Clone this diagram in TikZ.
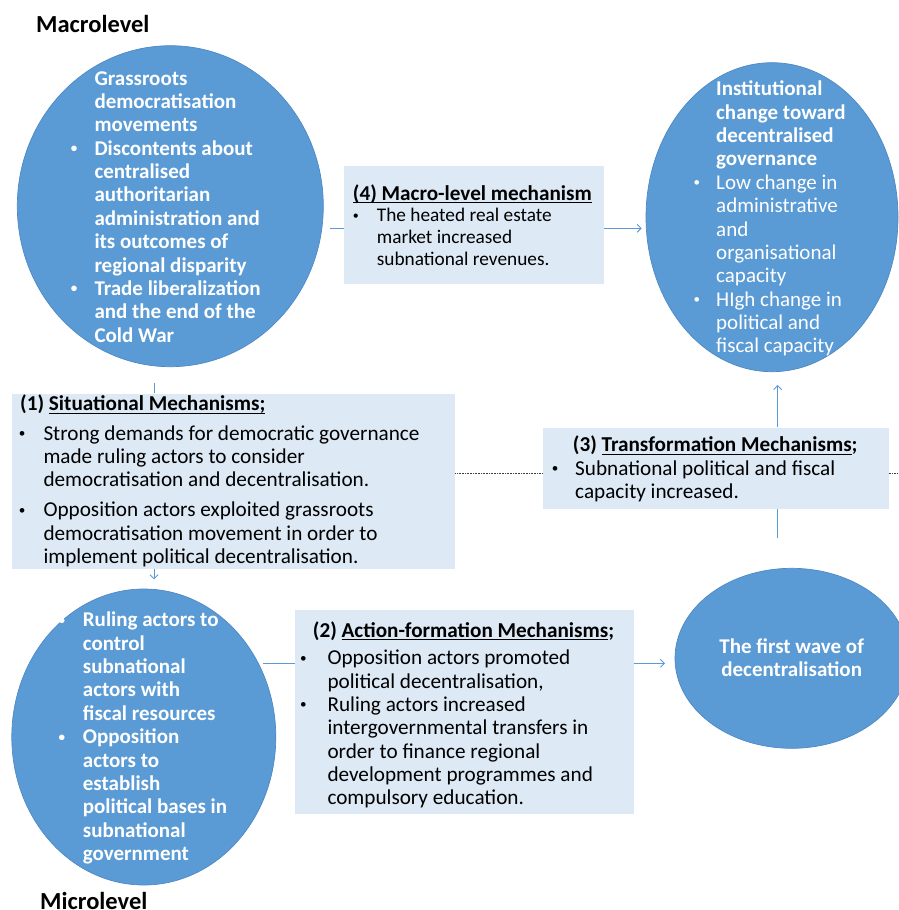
\documentclass[tikz,border=0pt]{standalone}
\usepackage{fontspec}
\usepackage{graphicx}
\setmainfont{Carlito}
\usetikzlibrary{shapes.geometric,arrows.meta,calc}
\definecolor{cblue}{HTML}{5B9BD5}
\definecolor{cedge}{HTML}{4F89C4}
\definecolor{bfill}{HTML}{DDE9F5}
\newlength\bw
\newlength\ulw
\newcommand\bu{\makebox[\bw][l]{\makebox[10pt][c]{\raisebox{2.6pt}{\scalebox{0.62}{\textbullet}}}}}
\newcommand\co{\hspace*{\bw}}
\newcommand\st{\rule{0pt}{18pt}}
\newcommand\ulin[1]{\settowidth\ulw{#1}\rlap{\rule[-2.6pt]{\ulw}{0.9pt}}#1}
\begin{document}
\begin{tikzpicture}[x=1pt,y=-1pt,
 circ/.style={ellipse,fill=cblue,draw=cedge,line width=0.7pt,inner sep=0pt},
 boxr/.style={rectangle,fill=bfill,draw=none,inner sep=0pt,anchor=north west},
 txt/.style={anchor=north west,inner sep=0pt,align=left},
 wtxt/.style={txt,text=white,font=\bfseries\fontsize{21}{23.35}\selectfont},
 btxt/.style={txt,text=black,font=\fontsize{21.2}{23.3}\selectfont},
 conn/.style={draw=cblue,line width=0.9pt},
 arr/.style={conn,-{Straight Barb[length=4pt,width=8pt]}},
 dotl/.style={black!75,line width=0.6pt,dash pattern=on 0.8pt off 0.8pt},
 lvl/.style={anchor=base west,inner sep=0pt,font=\bfseries\fontsize{24.5}{28}\selectfont}]
\useasboundingbox (0,0) rectangle (898,910);

% level labels
\node[lvl] (macro) at (36,32.7) {Macrolevel};
\node[lvl] (micro) at (40,909) {Microlevel};

% circles
\node[circ,minimum width=306pt,minimum height=321pt] (c1) at (170.3,206.2) {};
\node[circ,minimum width=252pt,minimum height=309pt] (c2) at (772,217.2) {};
\node[circ,minimum width=264pt,minimum height=296pt] (c4) at (143.8,737) {};
\node[circ,minimum width=233.4pt,minimum height=180pt] (c5) at (791.7,658.3) {};

% connector end points
\coordinate (p1) at (330,228.3);
\coordinate (p2) at (641.7,228.3);
\coordinate (p3) at (154,383.3);
\coordinate (p4) at (154,579.3);
\coordinate (p5) at (263,663.3);
\coordinate (p6) at (665,663.3);
\coordinate (p7) at (777.7,538.3);
\coordinate (p8) at (777.7,385);
\coordinate (p9) at (898,473.3);

% boxes
\path (344,166) node[boxr,minimum width=259.3pt,minimum height=118pt] (b4) {};
\path (11.7,393.3) node[boxr,minimum width=443.3pt,minimum height=175pt] (b1) {};
\path (542.7,427.3) node[boxr,minimum width=345.6pt,minimum height=81pt] (b3) {};
\path (295,610) node[boxr,minimum width=338.3pt,minimum height=203.3pt] (b2) {};

% dotted divider and vertical connector (hidden behind box 3)
\draw[dotl] (b1.east |- p9) -- (b3.west |- p9);
\draw[dotl] (b3.east |- p9) -- (p9);
\draw[conn] (p7) -- (p7 |- b3.south);
\draw[arr] (p7 |- b3.north) -- (p8);

% connectors
\draw[conn] (p1) -- (b4.west |- p1);
\draw[arr] (b4.east |- p2) -- (p2);
\draw[conn] (p3) -- (p3 |- b1.north);
\draw[arr] (p4 |- b1.south) -- (p4);
\draw[conn] (p5) -- (b2.west |- p5);
\draw[arr] (b2.east |- p6) -- (p6);

% circle texts
\node[wtxt] (t1) at (69,85-18) {\global\bw=25.3pt%
\co\st Grassroots\\
\co democratisation\\
\co movements\\
\bu Discontents about\\
\co centralised\\
\co authoritarian\\
\co administration and\\
\co its outcomes of\\
\co regional disparity\\
\bu Trade liberalization\\
\co and the end of the\\
\co Cold War};

\node[wtxt] (t2) at (691.7,95.7-18) {\global\bw=24.3pt%
\co\st Institutional\\
\co change toward\\
\co decentralised\\
\co governance\\
\mdseries\bu Low change in\\
\mdseries\co administrative\\
\mdseries\co and\\
\mdseries\co organisational\\
\mdseries\co capacity\\
\mdseries\bu HIgh change in\\
\mdseries\co political and\\
\mdseries\co fiscal capacity};

\node[wtxt] (t4) at (56.7,626.7-18) {\global\bw=26pt%
\bu\st Ruling actors to\\
\co control\\
\co subnational\\
\co actors with\\
\co fiscal resources\\
\bu Opposition\\
\co actors to\\
\co establish\\
\co political bases in\\
\co subnational\\
\co government};

\node[wtxt,anchor=north,align=center] (t5) at (791.7,653.3-18) {\st The first wave of\\decentralisation};

% box texts
\node[btxt,font=\fontsize{19.3}{21.6}\selectfont] (t41) at (350.6,200-18) {\global\bw=26.1pt%
\hspace*{2.1pt}\st{\fontsize{21.2}{21.6}\selectfont\bfseries\ulin{(4) Macro-level mechanism}}\\
\bu The heated real estate\\
\co market increased\\
\co subnational revenues.};

\node[btxt] (t11) at (17,410.7-18) {\global\bw=26.3pt%
\hspace*{3pt}\st\textbf{(1) \ulin{Situational Mechanisms;}}\\[6pt]
\bu Strong demands for democratic governance\\
\co made ruling actors to consider\\
\co democratisation and decentralisation.\\[6.7pt]
\bu Opposition actors exploited grassroots\\
\co democratisation movement in order to\\
\co implement political decentralisation.};

\node[btxt] (t31) at (550,451.7-18) {\global\bw=25pt%
\hspace*{22.7pt}\st\textbf{(3) \ulin{Transformation Mechanisms};}\\
\bu Subnational political and fiscal\\
\co capacity increased.};

\node[btxt] (t21) at (298.3,637.3-18) {\global\bw=29pt%
\hspace*{14.4pt}\st\textbf{(2) \ulin{Action-formation Mechanisms};}\\[4pt]
\bu Opposition actors promoted\\
\co political decentralisation,\\
\bu Ruling actors increased\\
\co intergovernmental transfers in\\
\co order to finance regional\\
\co development programmes and\\
\co compulsory education.};
\end{tikzpicture}
\end{document}
